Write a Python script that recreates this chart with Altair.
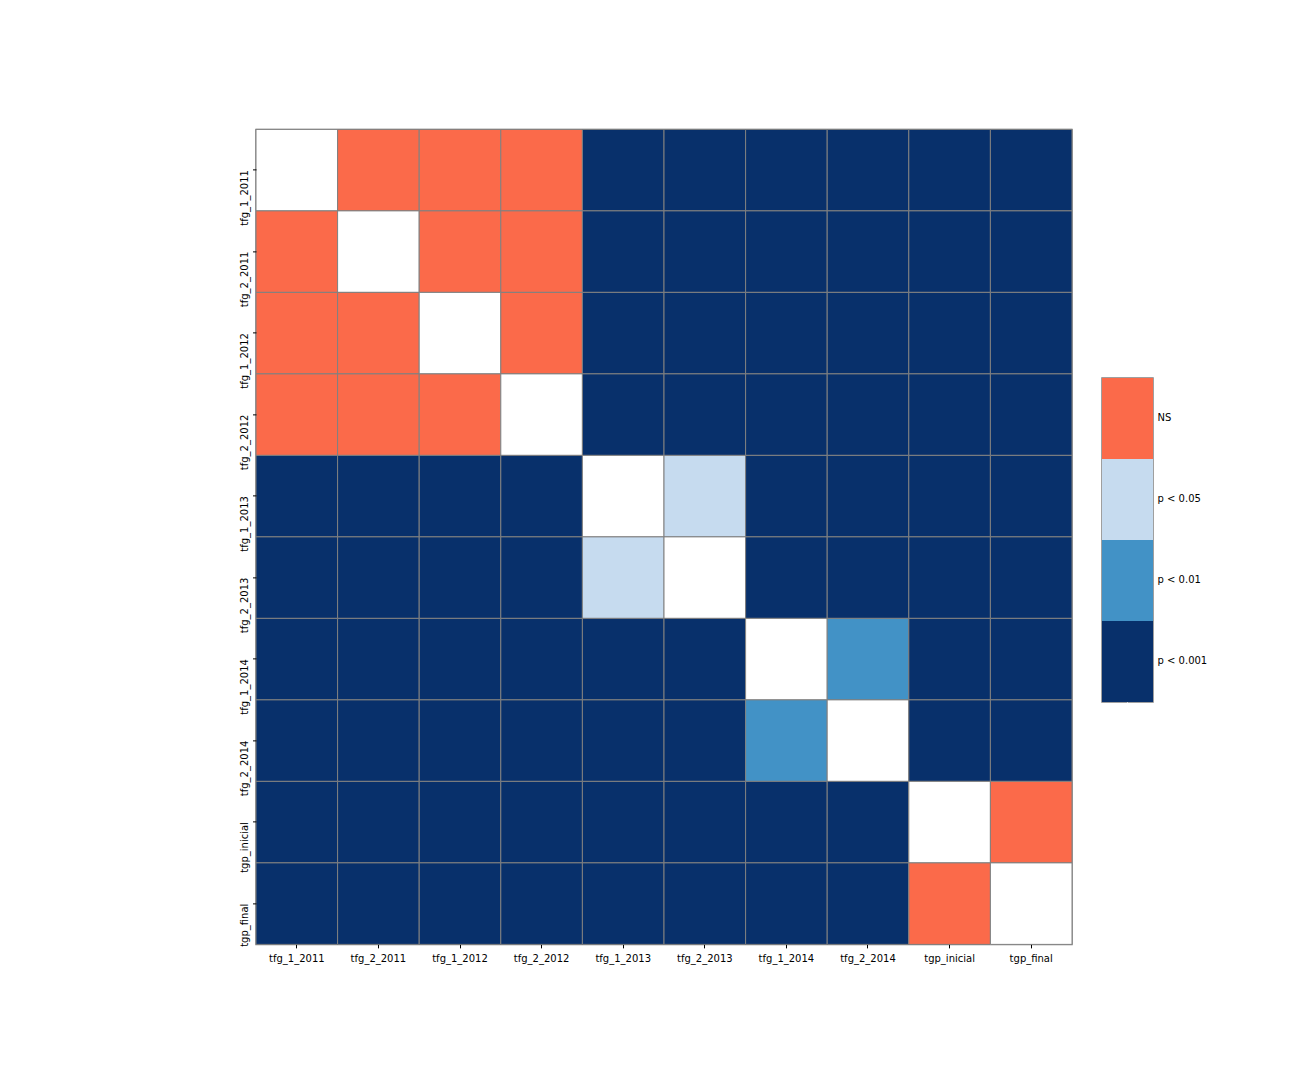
import altair as alt
import pandas as pd

labels = ["tfg_1_2011", "tfg_2_2011", "tfg_1_2012", "tfg_2_2012", "tfg_1_2013",
          "tfg_2_2013", "tfg_1_2014", "tfg_2_2014", "tgp_inicial", "tgp_final"]

levels = ["NS", "p < 0.05", "p < 0.01", "p < 0.001"]
level_colors = ["#fb6a4a", "#c6dbef", "#4292c6", "#08306b"]

N, A, B, C = "NS", "p < 0.05", "p < 0.01", "p < 0.001"
D = ""  # diagonal (blank)
matrix = [
    [D, N, N, N, C, C, C, C, C, C],
    [N, D, N, N, C, C, C, C, C, C],
    [N, N, D, N, C, C, C, C, C, C],
    [N, N, N, D, C, C, C, C, C, C],
    [C, C, C, C, D, A, C, C, C, C],
    [C, C, C, C, A, D, C, C, C, C],
    [C, C, C, C, C, C, D, B, C, C],
    [C, C, C, C, C, C, B, D, C, C],
    [C, C, C, C, C, C, C, C, D, N],
    [C, C, C, C, C, C, C, C, N, D],
]

rows = []
for i, rl in enumerate(labels):
    for j, cl in enumerate(labels):
        rows.append({"row": rl, "col": cl, "level": matrix[i][j] if matrix[i][j] else "diag"})
df = pd.DataFrame(rows)

font = "DejaVu Sans"

color_scale = alt.Scale(domain=levels + ["diag"], range=level_colors + ["#ffffff"])

heat = alt.Chart(df).mark_rect(stroke="#808080", strokeWidth=1).encode(
    x=alt.X("col:N", sort=labels, title=None,
            scale=alt.Scale(paddingInner=0, paddingOuter=0),
            axis=alt.Axis(labelAngle=0, domain=False, tickColor="black", tickSize=3.5,
                          labelFont=font, labelFontSize=10, labelColor="black",
                          labelPadding=6)),
    y=alt.Y("row:N", sort=labels, title=None,
            scale=alt.Scale(paddingInner=0, paddingOuter=0),
            axis=alt.Axis(labelAngle=270, labelAlign="right", labelBaseline="bottom",
                          domain=False, tickColor="black", tickSize=3.5,
                          labelFont=font, labelFontSize=10, labelColor="black",
                          labelPadding=3)),
    color=alt.Color("level:N", scale=color_scale, legend=None),
).properties(width=816, height=815)

leg_df = pd.DataFrame({"level": levels, "k": ["" for _ in levels]})
legend = alt.Chart(leg_df).mark_rect().encode(
    x=alt.X("k:N", title=None,
            axis=alt.Axis(labels=False, domain=False, tickSize=13, tickColor="white")),
    y=alt.Y("level:N", sort=levels, title=None,
            scale=alt.Scale(paddingInner=0, paddingOuter=0),
            axis=alt.Axis(orient="right", domain=False, ticks=False, labelPadding=4,
                          labelFont=font, labelFontSize=10, labelColor="black")),
    color=alt.Color("level:N", scale=color_scale, legend=None),
).properties(width=51, height=324)

chart = alt.hconcat(heat, legend, spacing=27, center=True).properties(
    padding={"left": 230, "top": 120, "right": 5, "bottom": 5}
).configure_view(stroke="#808080", strokeWidth=1.5).resolve_scale(color="shared")

chart.save("out.html", embed_options={"renderer": "svg", "actions": False})
